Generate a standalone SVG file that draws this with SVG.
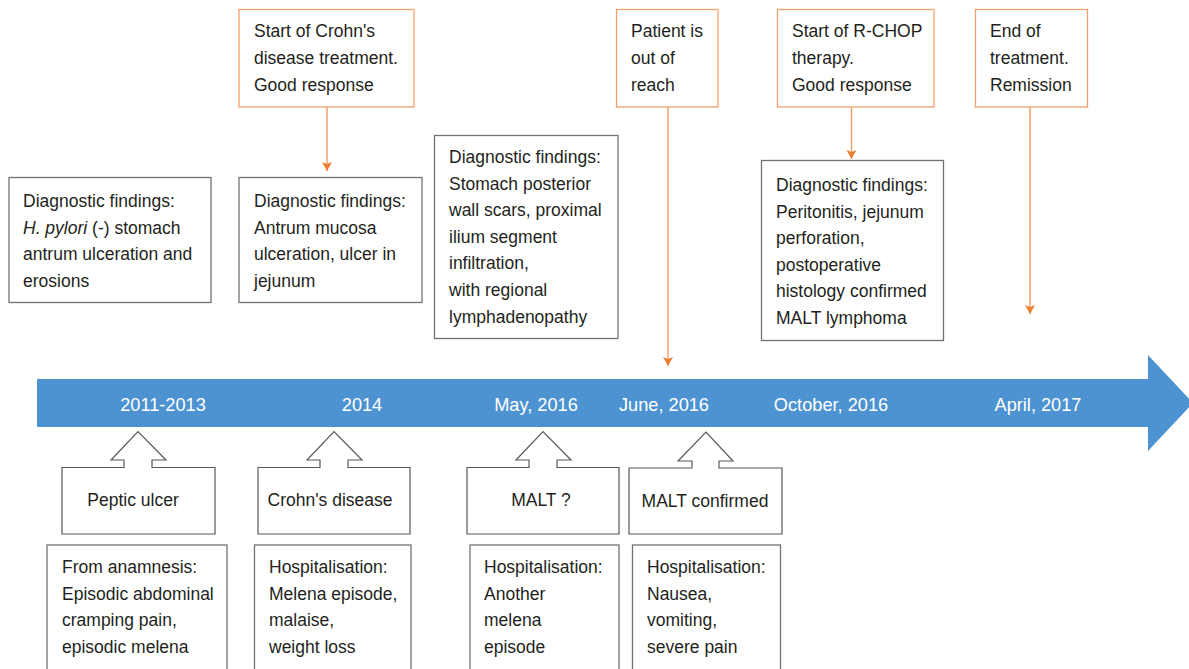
<svg xmlns="http://www.w3.org/2000/svg" width="1189" height="669" viewBox="0 0 1189 669">
<defs>
<style>
text{font-family:"Liberation Sans",Arial,sans-serif;font-size:17.5px;fill:#231f20}
.d{fill:#ffffff;font-size:18.2px}
.g{fill:#ffffff;stroke:#767171;stroke-width:1.3}
.o{fill:#ffffff;stroke:#f4a06c;stroke-width:1.3}
.c{fill:#ffffff;stroke:#595959;stroke-width:1.2;stroke-linejoin:miter}
.ln{stroke:#f4a06c;stroke-width:1.5;fill:none}
</style>
<marker id="ah2" markerWidth="10" markerHeight="10" refX="9" refY="5" orient="auto" markerUnits="userSpaceOnUse" viewBox="0 0 10 10">
<path d="M0,0 L9,5 L0,10 L2,5 Z" fill="#ed7d31"/>
</marker>
</defs>

<g id="timeline">
<path d="M37,379 H1148 V355 L1193,403 L1148,451 V427 H37 Z" fill="#4d93d1"/>
<text class="d" x="163" y="410.5" text-anchor="middle">2011-2013</text>
<text class="d" x="362" y="410.5" text-anchor="middle">2014</text>
<text class="d" x="536" y="410.5" text-anchor="middle">May, 2016</text>
<text class="d" x="664" y="410.5" text-anchor="middle">June, 2016</text>
<text class="d" x="831" y="410.5" text-anchor="middle">October, 2016</text>
<text class="d" x="1038" y="410.5" text-anchor="middle">April, 2017</text>
</g>

<g id="connectors">
<line class="ln" x1="327" y1="107" x2="327" y2="171" marker-end="url(#ah2)"/>
<line class="ln" x1="668" y1="107" x2="668" y2="366" marker-end="url(#ah2)"/>
<line class="ln" x1="851.5" y1="107" x2="851.5" y2="159" marker-end="url(#ah2)"/>
<line class="ln" x1="1030" y1="107" x2="1030" y2="314" marker-end="url(#ah2)"/>
</g>

<g id="diag1">
<rect class="g" x="9" y="177.5" width="202" height="125"/>
<text x="23" y="207">Diagnostic findings:</text>
<text x="23" y="233.6"><tspan font-style="italic">H. pylori</tspan> (-) stomach</text>
<text x="23" y="260.2">antrum ulceration and</text>
<text x="23" y="286.8">erosions</text>
</g>

<g id="crohn-treatment">
<rect class="o" x="239" y="9.5" width="175" height="97.5"/>
<text x="254" y="37.3">Start of Crohn's</text>
<text x="254" y="63.9">disease treatment.</text>
<text x="254" y="90.5">Good response</text>
</g>

<g id="diag2">
<rect class="g" x="239" y="177.5" width="183" height="125"/>
<text x="254" y="207">Diagnostic findings:</text>
<text x="254" y="233.6">Antrum mucosa</text>
<text x="254" y="260.2">ulceration, ulcer in</text>
<text x="254" y="286.8">jejunum</text>
</g>

<g id="diag3">
<rect class="g" x="434.5" y="135.5" width="183.5" height="203"/>
<text x="449" y="163">Diagnostic findings:</text>
<text x="449" y="189.6">Stomach posterior</text>
<text x="449" y="216.2">wall scars, proximal</text>
<text x="449" y="242.8">ilium segment</text>
<text x="449" y="269.4">infiltration,</text>
<text x="449" y="296">with regional</text>
<text x="449" y="322.6">lymphadenopathy</text>
</g>

<g id="out-of-reach">
<rect class="o" x="616.5" y="9.5" width="101.5" height="97.5"/>
<text x="631" y="37.3">Patient is</text>
<text x="631" y="63.9">out of</text>
<text x="631" y="90.5">reach</text>
</g>

<g id="rchop">
<rect class="o" x="777.5" y="9.5" width="156.5" height="97.5"/>
<text x="792" y="37.3">Start of R-CHOP</text>
<text x="792" y="63.9">therapy.</text>
<text x="792" y="90.5">Good response</text>
</g>

<g id="diag4">
<rect class="g" x="761.5" y="160.5" width="182" height="180"/>
<text x="776" y="191">Diagnostic findings:</text>
<text x="776" y="217.6">Peritonitis, jejunum</text>
<text x="776" y="244.2">perforation,</text>
<text x="776" y="270.8">postoperative</text>
<text x="776" y="297.4">histology confirmed</text>
<text x="776" y="324">MALT lymphoma</text>
</g>

<g id="end-treatment">
<rect class="o" x="975.5" y="9.5" width="112" height="97.5"/>
<text x="990" y="37.3">End of</text>
<text x="990" y="63.9">treatment.</text>
<text x="990" y="90.5">Remission</text>
</g>

<g id="peptic-ulcer">
<path class="c" d="M62,467.5 H124 V460 H111 L138,431.5 L166,460 H152 V467.5 H215 V534 H62 Z"/>
<text x="133" y="505.7" text-anchor="middle">Peptic ulcer</text>
</g>

<g id="crohns-disease">
<path class="c" d="M258,467.5 H320 V460 H307 L334,431.5 L362,460 H348 V467.5 H410 V534 H258 Z"/>
<text x="330" y="505.7" text-anchor="middle">Crohn's disease</text>
</g>

<g id="malt-q">
<path class="c" d="M467,467.5 H529 V460 H516 L543,431.5 L571,460 H557 V467.5 H619 V534 H467 Z"/>
<text x="541" y="505.7" text-anchor="middle">MALT ?</text>
</g>

<g id="malt-confirmed">
<path class="c" d="M629,468 H692 V461 H678 L706,432 L733,461 H719 V468 H782 V534 H629 Z"/>
<text x="705" y="506.7" text-anchor="middle">MALT confirmed</text>
</g>

<g id="anamnesis">
<rect class="g" x="47" y="545" width="180" height="130"/>
<text x="62" y="573">From anamnesis:</text>
<text x="62" y="599.6">Episodic abdominal</text>
<text x="62" y="626.2">cramping pain,</text>
<text x="62" y="652.8">episodic melena</text>
</g>

<g id="hosp1">
<rect class="g" x="254.5" y="545" width="156.5" height="130"/>
<text x="269" y="573">Hospitalisation:</text>
<text x="269" y="599.6">Melena episode,</text>
<text x="269" y="626.2">malaise,</text>
<text x="269" y="652.8">weight loss</text>
</g>

<g id="hosp2">
<rect class="g" x="470" y="545" width="149" height="130"/>
<text x="484" y="573">Hospitalisation:</text>
<text x="484" y="599.6">Another</text>
<text x="484" y="626.2">melena</text>
<text x="484" y="652.8">episode</text>
</g>

<g id="hosp3">
<rect class="g" x="632.5" y="545" width="148" height="130"/>
<text x="647" y="573">Hospitalisation:</text>
<text x="647" y="599.6">Nausea,</text>
<text x="647" y="626.2">vomiting,</text>
<text x="647" y="652.8">severe pain</text>
</g>
</svg>
